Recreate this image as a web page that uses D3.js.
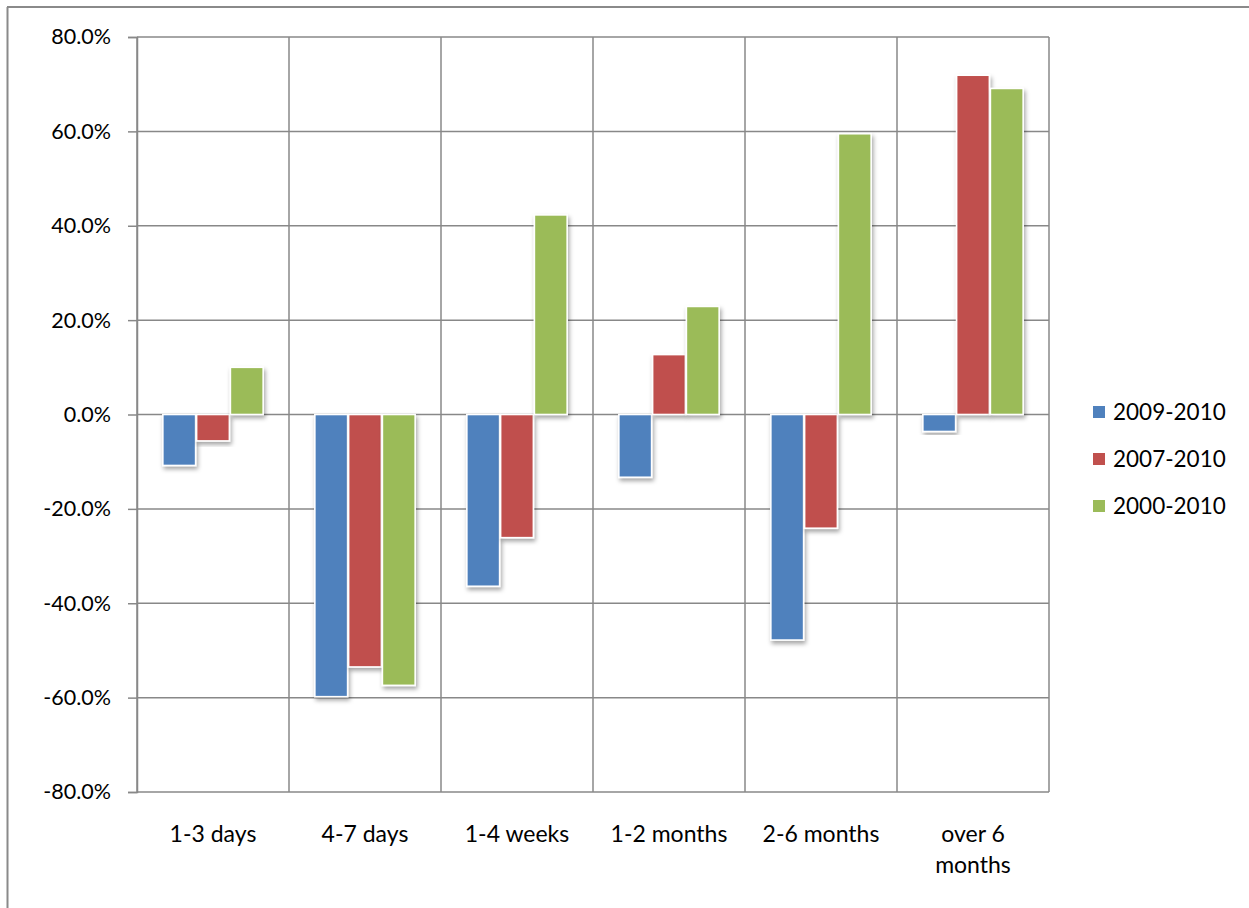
<!DOCTYPE html>
<html>
<head>
<meta charset="utf-8">
<script src="https://cdnjs.cloudflare.com/ajax/libs/d3/7.8.5/d3.min.js"></script>
<style>
  html, body { margin: 0; padding: 0; background: #fff; }
  svg { display: block; }
  text { font-family: Lato, "Open Sans", sans-serif; fill: #000; }
</style>
</head>
<body>
<svg id="chart" width="1249" height="908"></svg>
<script>
// Duration categories
const categories = ["1-3 days", "4-7 days", "1-4 weeks", "1-2 months", "2-6 months", "over 6 months"];
// Series names
const seriesNames = ["2009-2010", "2007-2010", "2000-2010"];
// Percentage change per category for each period
const s2009_2010 = [-10.8, -59.8, -36.4, -13.3, -47.8, -3.6];
const s2007_2010 = [-5.6, -53.5, -26.1, 12.7, -24.1, 71.9];
const s2000_2010 = [10.0, -57.4, 42.3, 22.9, 59.5, 69.1];
// Y axis ticks
const yTicks = [-80, -60, -40, -20, 0, 20, 40, 60, 80];
const seriesColors = ["#4F81BD", "#C0504D", "#9BBB59"];

const series = [s2009_2010, s2007_2010, s2000_2010];

const svg = d3.select("#chart");
const W = 1249, H = 908;
const plot = { left: 137, right: 1049, top: 37, bottom: 792 };
const gridColor = "#888888";

// Outer frame (left and top edges)
svg.append("line").attr("x1", 7.5).attr("x2", 7.5).attr("y1", 7).attr("y2", H)
  .attr("stroke", "#8a8a8a").attr("stroke-width", 2);
svg.append("line").attr("x1", 7).attr("x2", W).attr("y1", 7).attr("y2", 7)
  .attr("stroke", "#8a8a8a").attr("stroke-width", 2);

const defs = svg.append("defs");
const f = defs.append("filter").attr("id", "shadow")
  .attr("x", "-30%").attr("y", "-10%").attr("width", "160%").attr("height", "130%");
f.append("feDropShadow").attr("dx", 1.5).attr("dy", 3).attr("stdDeviation", 2)
  .attr("flood-color", "#000").attr("flood-opacity", 0.35);

const x = d3.scaleBand().domain(categories).range([plot.left, plot.right]).paddingInner(0).paddingOuter(0);
const y = d3.scaleLinear().domain([-80, 80]).range([plot.bottom, plot.top]);

// Horizontal gridlines
svg.append("g").selectAll("line").data(yTicks).join("line")
  .attr("x1", plot.left).attr("x2", plot.right)
  .attr("y1", d => y(d)).attr("y2", d => y(d))
  .attr("stroke", gridColor).attr("stroke-width", 1.5);

// Vertical gridlines at category boundaries
const bounds = categories.map(c => x(c)).concat([plot.right]);
svg.append("g").selectAll("line").data(bounds).join("line")
  .attr("x1", d => d).attr("x2", d => d)
  .attr("y1", plot.top).attr("y2", plot.bottom)
  .attr("stroke", gridColor).attr("stroke-width", 1.5);

// Y axis with outward ticks
const yAxis = d3.axisLeft(y).tickValues(yTicks).tickSize(9).tickPadding(17)
  .tickFormat(d => d.toFixed(1) + "%");
const yg = svg.append("g").attr("transform", `translate(${plot.left},0)`).call(yAxis);
yg.select(".domain").attr("stroke", gridColor).attr("stroke-width", 1.5);
yg.selectAll(".tick line").attr("stroke", gridColor).attr("stroke-width", 1.5);
yg.selectAll(".tick text").style("font-family", "Lato, 'Open Sans', sans-serif")
  .style("font-size", "21.5px").attr("fill", "#000");

// Bars within each category (gap of 1.5 bar widths shared on both sides)
const inner = d3.scaleBand().domain(d3.range(series.length))
  .range([0, x.bandwidth()]).paddingInner(0).paddingOuter(0.75);

const barData = [];
series.forEach((vals, si) => vals.forEach((v, ci) => barData.push({ si, ci, v })));

svg.append("g").selectAll("rect").data(barData).join("rect")
  .attr("x", d => x(categories[d.ci]) + inner(d.si) + 0.5)
  .attr("width", inner.bandwidth() - 1)
  .attr("y", d => y(Math.max(0, d.v)))
  .attr("height", d => Math.abs(y(d.v) - y(0)))
  .attr("fill", d => seriesColors[d.si])
  .attr("stroke", "#fff").attr("stroke-width", 1.6)
  .attr("filter", "url(#shadow)");

// Category labels, wrapped to fit the band
const xl = svg.append("g");
const wrapped = { "over 6 months": ["over 6", "months"] };
categories.forEach(c => {
  const lines = wrapped[c] || [c];
  const t = xl.append("text")
    .attr("x", x(c) + x.bandwidth() / 2)
    .attr("y", 842)
    .attr("text-anchor", "middle")
    .style("font-size", "23px");
  lines.forEach((ln, i) => {
    t.append("tspan").attr("x", x(c) + x.bandwidth() / 2).attr("dy", i === 0 ? 0 : 31).text(ln);
  });
});

// Legend
const lg = svg.append("g");
seriesNames.forEach((n, i) => {
  const cy = 412 + i * 47;
  lg.append("rect").attr("x", 1093).attr("y", cy - 6).attr("width", 12).attr("height", 12)
    .attr("fill", seriesColors[i]);
  lg.append("text").attr("x", 1113).attr("y", cy + 8).style("font-size", "22.5px").text(n);
});
</script>
</body>
</html>
